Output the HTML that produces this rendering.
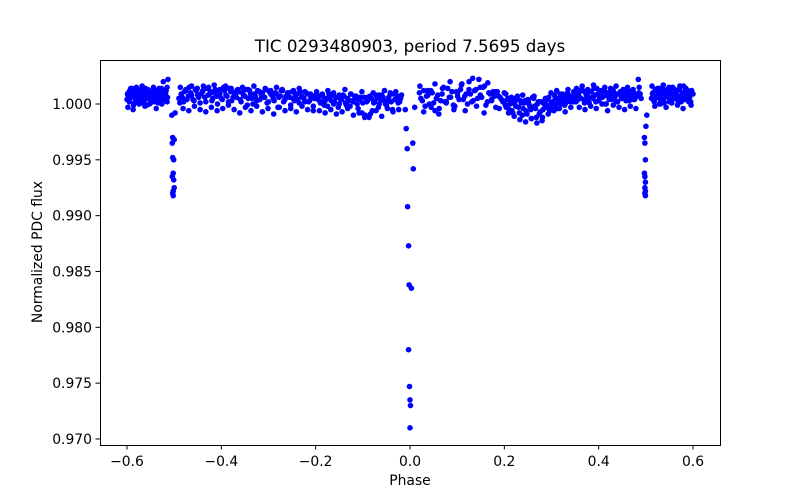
<!DOCTYPE html>
<html>
<head>
<meta charset="utf-8">
<style>
html,body{margin:0;padding:0;background:#fff;}
svg{display:block;}
text{font-family:"DejaVu Sans","Liberation Sans",sans-serif;fill:#000;}
</style>
</head>
<body>
<svg id="chart" width="800" height="500" viewBox="0 0 800 500">
  <rect x="0" y="0" width="800" height="500" fill="#fff"/>
  <text x="410" y="52" font-size="16.7" text-anchor="middle">TIC 0293480903, period 7.5695 days</text>
  <g id="points"></g>
  <g id="xticks"></g>
  <g id="yticks"></g>
  <rect x="100.5" y="60.5" width="620" height="385" fill="none" stroke="#000" stroke-width="1"/>
  <text x="410" y="485" font-size="13.9" text-anchor="middle">Phase</text>
  <text x="0" y="0" font-size="13.9" text-anchor="middle" transform="translate(42,252) rotate(-90)">Normalized PDC flux</text>
</svg>
<script>
// Phase in units of 0.001; flux as offset from 1.0 in units of 0.0001
const phaseK = [
-600,-598,-597,-595,-593,-592,-590,-588,-587,-585,-583,-582,-580,-578,-576,-575,-573,-571,-570,-568,-566,-565,-563,-561,-560,-558,-556,-555,-553,-551,-550,-548,-546,-545,-543,-541,-540,-538,-536,-535,-533,-531,-530,-528,-526,-525,-523,-521,-520,-518,-516,-515,-513,
-599,-596,-594,-591,-589,-586,-584,-581,-579,-577,-574,-572,-569,-567,-564,-562,-559,-557,-554,-552,-549,-547,-544,-542,-539,-537,-534,-532,-529,-527,-524,-522,-519,-517,-514,
-490,-485,-480,-475,-470,-465,-460,-455,-450,-445,-440,-435,-430,-425,-420,-415,-410,-405,-400,-395,-390,-385,-380,-375,-370,-365,-360,-355,-350,-345,-340,-335,-330,-325,-320,-315,-310,-305,-300,-295,-290,-285,-280,-275,-270,-265,-260,-255,-250,-245,-240,-235,-230,-225,-220,-215,-210,-205,-200,
-488,-483,-478,-473,-468,-463,-458,-453,-448,-443,-438,-433,-428,-423,-418,-413,-408,-403,-398,-393,-388,-383,-378,-373,-368,-363,-358,-353,-348,-343,-338,-333,-328,-323,-318,-313,-308,-303,-298,-293,-288,-283,-278,-273,-268,-263,-258,-253,-248,-243,-238,-233,-228,-223,-218,-213,-208,-203,
-195,-190,-185,-180,-175,-170,-165,-160,-155,-150,-145,-140,-135,-130,-125,-120,-115,-110,-105,-100,-95,-90,-85,-80,-75,-70,-65,-60,-55,-50,-45,-40,-35,-30,-25,-20,
-192,-187,-182,-177,-172,-167,-162,-157,-152,-147,-142,-137,-132,-127,-122,-117,-112,-107,-102,-97,-92,-87,-82,-77,-72,-67,-62,-57,-52,-47,-42,-37,-32,-27,-22,
20,26,32,38,44,50,56,62,68,74,80,86,92,98,104,110,116,122,128,134,140,146,152,158,164,170,176,182,188,194,200,
23,29,35,41,47,53,59,65,71,77,83,89,95,101,107,113,119,125,131,137,143,149,155,161,167,173,179,185,191,197,
200,204,208,212,216,220,224,228,232,236,240,244,248,252,256,260,264,268,272,276,280,284,288,292,296,300,304,308,312,316,320,324,328,332,336,340,344,348,
202,206,210,214,218,222,226,230,234,238,242,246,250,254,258,262,266,270,274,278,282,286,290,294,298,302,306,310,314,318,322,326,330,334,338,342,346,
350,354,358,362,366,370,374,378,382,386,390,394,398,402,406,410,414,418,422,426,430,434,438,442,446,450,454,458,462,466,470,474,478,482,486,490,
352,356,360,364,368,372,376,380,384,388,392,396,400,404,408,412,416,420,424,428,432,436,440,444,448,452,456,460,464,468,472,476,480,484,488,
512,515,518,521,524,527,530,533,536,539,542,545,548,551,554,557,560,563,566,569,572,575,578,581,584,587,590,593,596,600,
514,517,520,523,526,529,532,535,538,541,544,547,550,553,556,559,562,565,568,571,574,577,580,583,586,589,592,595,598,
-598,-592,-586,-580,-574,-568,-562,-556,-550,-544,-538,-532,-526,-520,-515,
-487,-481,-475,-469,-463,-457,-451,-445,-439,-433,-427,-421,-415,-409,-403,-397,-391,-385,-379,-373,-367,-361,-355,-349,-343,-337,-331,-325,-319,-313,-307,-301,-295,-289,-283,-277,-271,-265,-259,-253,-247,-241,-235,-229,-223,-217,-211,-205,
-198,-192,-186,-180,-174,-168,-162,-156,-150,-144,-138,-132,-126,-120,-114,-108,-102,-96,-90,-84,-78,-72,-66,-60,-54,-48,-42,-36,-30,-24,-18,
21,29,37,45,53,61,69,77,85,93,101,109,117,125,133,141,149,157,165,173,181,189,
203,209,215,221,227,233,239,245,251,257,263,269,275,281,287,293,299,305,311,317,323,329,335,341,347,
353,359,365,371,377,383,389,395,401,407,413,419,425,431,437,443,449,455,461,467,473,479,485,
513,519,525,531,537,543,549,555,561,567,573,579,585,591,597,
-505,-503,-504,-500,-503,-501,-502,-504,-501,-500,-502,-503,-502,-498,
-8,-6,6,7,-5,-3,-2,3,-3,-1,0,1,0,-10,10,
497,498,499,497,498,499,498,499,498,499,502,500
];
const fluxOffset = [
4,8,10,2,6,12,7,9,-5,11,5,8,13,3,9,6,10,1,7,12,4,9,6,14,8,-1,7,10,5,11,3,8,6,12,9,2,7,10,5,8,13,4,9,6,11,7,20,3,8,10,5,15,22,
9,3,12,6,14,8,1,10,6,13,4,9,7,15,2,11,8,5,12,0,9,6,13,3,10,7,1,11,8,14,5,9,3,12,6,
5,9,2,12,7,10,4,13,8,1,11,6,14,9,3,10,7,12,5,15,8,2,11,6,9,13,4,10,7,-1,12,5,9,3,11,8,6,13,2,9,5,10,-3,7,12,4,8,6,11,3,9,1,7,5,10,2,6,-2,8,
1,6,11,4,15,8,3,12,6,9,16,2,8,11,5,13,0,9,4,12,7,14,3,10,6,11,2,8,13,5,9,0,7,12,4,10,6,1,11,8,3,9,6,12,2,7,10,-1,5,8,4,11,6,2,9,3,7,5,
4,1,7,3,-2,5,8,2,6,0,4,7,-1,3,9,2,5,-4,6,1,-10,3,7,-6,2,5,0,8,3,-1,6,2,9,4,1,5,
7,2,-1,5,9,3,0,6,-3,4,8,1,5,-2,3,7,0,4,-8,6,2,-12,5,1,8,-3,4,6,0,3,10,-5,4,7,2,
10,3,-2,8,12,1,5,-4,9,2,14,6,-1,11,4,18,7,0,9,3,13,22,6,16,2,9,11,-3,7,4,10,
5,12,7,0,10,-6,8,3,15,1,6,11,-2,7,13,4,9,20,2,12,5,8,15,-1,10,3,7,11,6,2,
2,-3,5,0,-6,4,-2,7,-8,1,-4,3,-9,0,-5,6,-2,-12,2,-7,-15,0,-3,4,-6,1,-2,5,-4,3,0,6,-1,4,8,2,7,5,
-1,4,-5,2,-8,0,6,-3,3,-10,1,-6,4,-2,-13,5,-4,0,-9,2,-5,3,-1,6,-3,2,8,0,5,9,3,7,1,10,4,6,2,
7,3,10,5,12,1,8,4,11,6,14,2,9,5,12,7,0,10,4,8,13,6,2,9,11,5,8,3,12,7,4,10,6,9,15,5,
2,9,6,13,4,10,7,1,11,5,8,14,3,9,6,12,0,7,10,4,11,8,2,9,5,13,6,10,3,8,12,4,7,22,9,
5,10,2,12,7,14,4,9,11,1,8,13,6,10,3,15,9,5,12,7,16,2,10,8,13,4,11,6,-1,9,
9,3,13,6,11,0,8,15,4,10,7,12,2,9,14,5,11,8,3,13,6,10,16,4,9,12,7,2,10,
-3,14,-1,15,0,16,-2,13,1,15,-4,14,0,12,2,
15,-4,13,-6,16,-2,14,-5,12,-7,15,-3,17,-6,13,-4,16,-1,14,-5,12,-8,15,-3,13,-6,16,-2,11,-7,14,-4,12,-9,15,-3,13,-6,10,-4,12,-7,14,-2,11,-5,9,-6,
11,-6,9,-8,12,-5,10,-9,8,-7,13,-4,9,-10,7,-8,11,-12,6,-9,10,-6,8,-11,12,-4,9,-7,11,-5,8,
16,-7,12,-3,18,-9,14,2,20,-5,10,17,-6,13,23,-2,15,-8,19,4,11,-4,
9,-8,6,-11,4,-14,8,-16,3,-13,7,-17,2,-12,5,-9,10,-6,12,-4,9,-7,13,-3,11,
14,-3,16,-5,13,-2,17,-4,12,0,15,-6,14,-1,16,-3,11,-5,15,-2,13,-4,10,
16,-2,14,0,17,-3,15,1,13,-1,16,-4,14,2,12,
-10,-30,-35,-32,-48,-50,-62,-65,-68,-75,-78,-80,-82,-8,
-22,-40,-35,-58,-92,-127,-162,-165,-220,-253,-265,-270,-290,-5,-3,
-30,-35,-50,-62,-65,-70,-75,-78,-80,-82,-10,-20
];
const xTickValues = [-0.6,-0.4,-0.2,0.0,0.2,0.4,0.6];
const xTickLabels = ["\u22120.6","\u22120.4","\u22120.2","0.0","0.2","0.4","0.6"];
const yTickValues = [0.970,0.975,0.980,0.985,0.990,0.995,1.000];
const yTickLabels = ["0.970","0.975","0.980","0.985","0.990","0.995","1.000"];

const NS = "http://www.w3.org/2000/svg";
function xScale(p){ return 410 + p * 471.7; }
function yScale(f){ return 104 + (1.0 - f) * 11166; }

const pg = document.getElementById('points');
for (let i = 0; i < phaseK.length; i++) {
  const c = document.createElementNS(NS, 'circle');
  c.setAttribute('cx', xScale(phaseK[i] / 1000).toFixed(1));
  c.setAttribute('cy', yScale(1 + fluxOffset[i] / 10000).toFixed(1));
  c.setAttribute('r', '2.8');
  c.setAttribute('fill', '#0000ff');
  
  
  pg.appendChild(c);
}
const xg = document.getElementById('xticks');
xTickValues.forEach((v, i) => {
  const x = xScale(v);
  const l = document.createElementNS(NS, 'line');
  l.setAttribute('x1', x); l.setAttribute('x2', x);
  l.setAttribute('y1', 445); l.setAttribute('y2', 449.5);
  l.setAttribute('stroke', '#000');
  
  
  xg.appendChild(l);
  const t = document.createElementNS(NS, 'text');
  t.setAttribute('x', x); t.setAttribute('y', 466);
  t.setAttribute('font-size', '13.9'); t.setAttribute('text-anchor', 'middle');
  t.textContent = xTickLabels[i];
  
  
  xg.appendChild(t);
});
const yg = document.getElementById('yticks');
yTickValues.forEach((v, i) => {
  const y = yScale(v);
  const l = document.createElementNS(NS, 'line');
  l.setAttribute('x1', 95.5); l.setAttribute('x2', 100);
  l.setAttribute('y1', y); l.setAttribute('y2', y);
  l.setAttribute('stroke', '#000');
  
  
  yg.appendChild(l);
  const t = document.createElementNS(NS, 'text');
  t.setAttribute('x', 92); t.setAttribute('y', y + 5);
  t.setAttribute('font-size', '13.9'); t.setAttribute('text-anchor', 'end');
  t.textContent = yTickLabels[i];
  
  
  yg.appendChild(t);
});
</script>
</body>
</html>
